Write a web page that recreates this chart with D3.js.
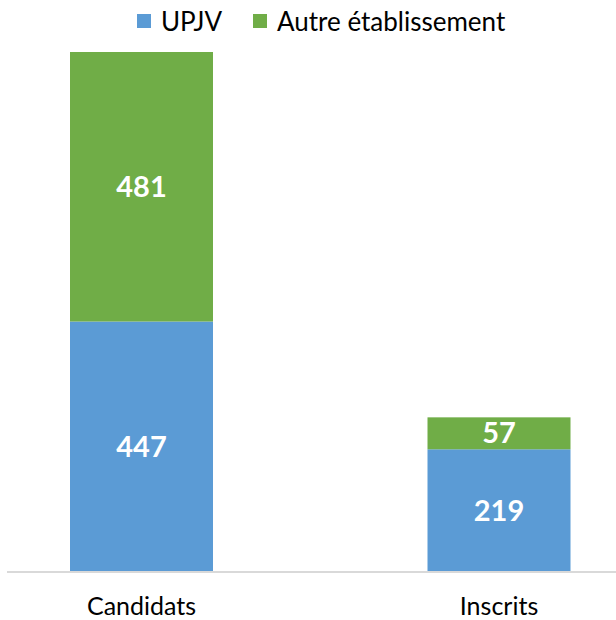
<!DOCTYPE html>
<html>
<head>
<meta charset="utf-8">
<script src="https://cdn.jsdelivr.net/npm/d3@7"></script>
<style>
  body { margin: 0; background: #fff; }
  text { font-family: Lato, 'Open Sans', sans-serif; }
</style>
</head>
<body>
<div id="chart"></div>
<script>
// Data
var categories = ['Candidats', 'Inscrits'];
var seriesNames = ['UPJV', 'Autre établissement'];
var upjv = [447, 219];
var autre = [481, 57];
var colors = ['#5b9bd5', '#70ad47'];

var w = 616;
var h = 620;
var baseY = 572;
var topY = 52;

var svg = d3.select('#chart').append('svg').attr('width', w).attr('height', h);

// Scales
var xScale = d3.scaleBand()
  .domain(categories)
  .range([-37.25, 677.75])
  .paddingInner(0.6)
  .paddingOuter(0.3);

var yScale = d3.scaleLinear()
  .domain([0, 928])
  .range([baseY, topY]);

// Stack data
var rows = categories.map(function (c, i) {
  return { cat: c, 'UPJV': upjv[i], 'Autre établissement': autre[i] };
});
var stacked = d3.stack().keys(seriesNames)(rows);

// Bars
var groups = svg.selectAll('g.series')
  .data(stacked)
  .enter()
  .append('g')
  .attr('class', 'series')
  .attr('fill', function (d, i) { return colors[i]; });

groups.selectAll('rect')
  .data(function (d) { return d; })
  .enter()
  .append('rect')
  .attr('x', function (d) { return xScale(d.data.cat); })
  .attr('width', xScale.bandwidth())
  .attr('y', function (d) { return yScale(d[1]); })
  .attr('height', function (d) { return yScale(d[0]) - yScale(d[1]); });

// Value labels
groups.selectAll('text')
  .data(function (d) { return d; })
  .enter()
  .append('text')
  .attr('x', function (d) { return xScale(d.data.cat) + xScale.bandwidth() / 2; })
  .attr('y', function (d) { return (yScale(d[0]) + yScale(d[1])) / 2; })
  .attr('dy', '0.35em')
  .attr('text-anchor', 'middle')
  .attr('fill', '#fff')
  .attr('font-weight', 'bold')
  .attr('font-size', 29)
  .text(function (d) { return d[1] - d[0]; });

// X axis
var xAxis = d3.axisBottom(xScale).tickSize(0).tickPadding(25);
var gx = svg.append('g')
  .attr('transform', 'translate(0,' + baseY + ')')
  .call(xAxis);
gx.select('.domain').attr('stroke', '#d9d9d9').attr('stroke-width', 2).attr('d', 'M7,0H616');
gx.selectAll('text')
  .attr('font-size', 25)
  .attr('fill', '#000')
  .style('font-family', 'Lato, sans-serif');

// Legend
var legendX = [137, 253];
var legend = svg.selectAll('g.legend')
  .data(seriesNames)
  .enter()
  .append('g')
  .attr('class', 'legend')
  .attr('transform', function (d, i) { return 'translate(' + legendX[i] + ',14)'; });

legend.append('rect')
  .attr('width', 14)
  .attr('height', 14)
  .attr('fill', function (d, i) { return colors[i]; });

legend.append('text')
  .attr('x', 24)
  .attr('y', 8)
  .attr('dy', '0.35em')
  .attr('font-size', 26)
  .attr('fill', '#000')
  .text(function (d) { return d; });
</script>
</body>
</html>
